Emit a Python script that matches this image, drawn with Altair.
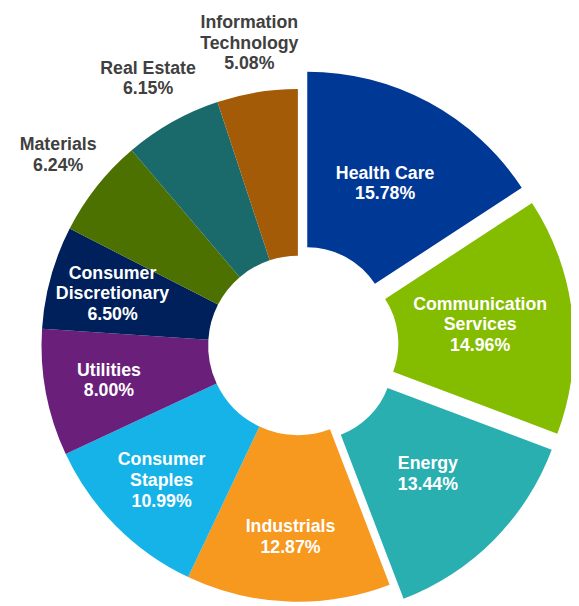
import json
import altair as alt
import pandas as pd

# ---- data ----
categories = ["Health Care", "Communication Services", "Energy", "Industrials",
              "Consumer Staples", "Utilities", "Consumer Discretionary",
              "Materials", "Real Estate", "Information Technology"]
label_lines = ["Health Care", "Communication\nServices", "Energy", "Industrials",
               "Consumer\nStaples", "Utilities", "Consumer\nDiscretionary",
               "Materials", "Real Estate", "Information\nTechnology"]
weights = [15.78, 14.96, 13.44, 12.87, 10.99, 8.00, 6.50, 6.24, 6.15, 5.08]

# ---- styles ----
colors = ["#003896", "#84BC00", "#2AAFB0", "#F7981F", "#15B3E8",
          "#6A1F7A", "#00205B", "#4D7100", "#1A6A6B", "#A35B07"]
exploded = ["Health Care", "Communication Services", "Energy"]
outside = ["Materials", "Real Estate", "Information Technology"]

W, H = 571, 598
CX, CY = 294, 338
R_OUT = 260
R_IN = 91
R_IN_EXP = 82
EXPLODE = 20
LBL_IN = 195
LBL_EXP = 166
LBL_OUT = 310
FONT_SIZE = 18
LINE_H = 21

texts = [f"{l}\n{w:.2f}%" for l, w in zip(label_lines, weights)]
df = pd.DataFrame({
    "category": categories,
    "text": texts,
    "nlines": [t.count("\n") + 1 for t in texts],
    "weight": weights,
    "order": list(range(len(categories))),
})

base = alt.Chart(df).transform_window(
    cum="sum(weight)", sort=[alt.SortField("order")]
).transform_joinaggregate(
    total="sum(weight)"
).transform_calculate(
    t0="(datum.cum - datum.weight) / datum.total * 2 * PI"
).transform_calculate(
    t1="datum.cum / datum.total * 2 * PI"
).transform_calculate(
    mid="(datum.t0 + datum.t1) / 2"
).transform_calculate(
    exp=f"indexof({json.dumps(exploded)}, datum.category) >= 0 ? 1 : 0"
).transform_calculate(
    out=f"indexof({json.dumps(outside)}, datum.category) >= 0 ? 1 : 0"
).transform_calculate(
    cx=f"{CX} + datum.exp * {EXPLODE} * sin(datum.mid)"
).transform_calculate(
    cy=f"{CY} - datum.exp * {EXPLODE} * cos(datum.mid)"
).transform_calculate(
    r0=f"datum.exp == 1 ? {R_IN_EXP} : {R_IN}"
).transform_calculate(
    r1=f"{R_OUT}"
).transform_calculate(
    rl=f"datum.out == 1 ? {LBL_OUT} : (datum.exp == 1 ? {LBL_EXP} : {LBL_IN})"
).transform_calculate(
    lx="datum.cx + datum.rl * sin(datum.mid)"
).transform_calculate(
    ly=f"datum.cy - datum.rl * cos(datum.mid) - (datum.nlines - 1) * {LINE_H} / 2"
)

arcs = base.mark_arc().encode(
    theta=alt.Theta("t0:Q", scale=None, stack=None),
    theta2="t1:Q",
    radius=alt.Radius("r1:Q", scale=None),
    radius2="r0:Q",
    x=alt.X("cx:Q", scale=None, axis=None),
    y=alt.Y("cy:Q", scale=None, axis=None),
    color=alt.Color("category:N", scale=alt.Scale(domain=categories, range=colors), legend=None),
)

labels = base.mark_text(
    font="Liberation Sans", fontSize=FONT_SIZE, fontWeight="bold",
    lineBreak="\n", lineHeight=LINE_H, align="center", baseline="middle",
).encode(
    x=alt.X("lx:Q", scale=None, axis=None),
    y=alt.Y("ly:Q", scale=None, axis=None),
    text="text:N",
    color=alt.condition("datum.out == 1", alt.value("#404040"), alt.value("white")),
)

chart = alt.layer(arcs, labels).properties(
    width=W, height=H, padding=0,
    autosize=alt.AutoSizeParams(type="none"),
).configure_view(stroke=None)

chart.save("out.html", embed_options={"renderer": "svg", "actions": False})
